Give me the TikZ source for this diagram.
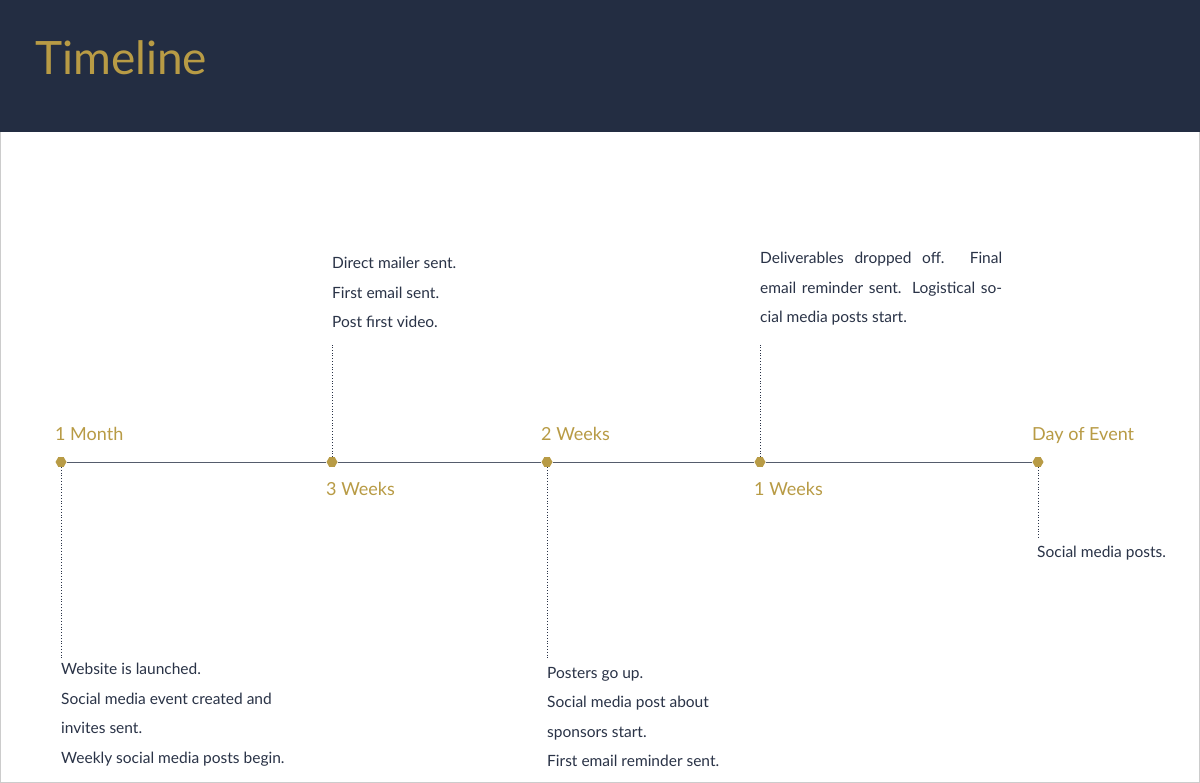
\documentclass[tikz,border=0pt]{standalone}
\usepackage{fontspec}
\setmainfont{Lato}
\usetikzlibrary{shapes.geometric}
\definecolor{navy}{HTML}{232D42}
\definecolor{gold}{HTML}{B89B45}
\definecolor{ink}{HTML}{2A3347}
\tikzset{
  hexdot/.style={regular polygon, regular polygon sides=6, fill=gold, inner sep=0pt, minimum size=11pt},
  period/.style={text=gold, font=\fontsize{18}{20}\selectfont, inner sep=0pt},
  note/.style={text=ink, font=\fontsize{15.5}{29.5}\selectfont, inner sep=0pt, align=left, anchor=north west},
  guide/.style={draw=ink, dotted, thick}
}
\begin{document}
\begin{tikzpicture}[x=1pt, y=-1pt]
  \useasboundingbox (0,0) rectangle (1200,783);
  \fill[white] (0,0) rectangle (1200,783);
  \draw[black!20] (0.5,0.5) rectangle (1199.5,782.5);
  \fill[navy] (0,0) rectangle (1200,132);
  \node[anchor=base west, text=gold, font=\fontsize{46}{50}\selectfont, inner sep=0pt] (title) at (35,75) {Timeline};
  % timeline
  \node[hexdot] (m1) at (61,462) {};
  \node[hexdot] (m2) at (332,462) {};
  \node[hexdot] (m3) at (547,462) {};
  \node[hexdot] (m4) at (760,462) {};
  \node[hexdot] (m5) at (1038,462) {};
  \draw[ink!80, thin] (m1) -- (m2) -- (m3) -- (m4) -- (m5);
  \node[period, anchor=base west] (p1) at (55,441) {1 Month};
  \node[period, anchor=base west] (p2) at (326,496) {3 Weeks};
  \node[period, anchor=base west] (p3) at (541,441) {2 Weeks};
  \node[period, anchor=base west] (p4) at (754,496) {1 Weeks};
  \node[period, anchor=base west] (p5) at (1032,441) {Day of Event};
  % notes
  \coordinate (e1) at (61,660);
  \coordinate (e2) at (332,345);
  \coordinate (e3) at (547,660);
  \coordinate (e4) at (760,345);
  \coordinate (e5) at (1038,537);
  \draw[guide] (m1) -- (e1);
  \draw[guide] (m2) -- (e2);
  \draw[guide] (m3) -- (e3);
  \draw[guide] (m4) -- (e4);
  \draw[guide] (m5) -- (e5);
  \node[note] (n1) at (61,663) {Website is launched.\\Social media event created and\\invites sent.\\Weekly social media posts begin.};
  \node[note] (n2) at (332,257) {Direct mailer sent.\\First email sent.\\Post first video.};
  \node[note] (n3) at (547,667) {Posters go up.\\Social media post about\\sponsors start.\\First email reminder sent.};
  \node[note, text width=242pt, align=justify] (n4) at (760,252) {Deliverables dropped off. Final email reminder sent. Logistical social media posts start.};
  \node[note] (n5) at (1037,546) {Social media posts.};
\end{tikzpicture}
\end{document}
